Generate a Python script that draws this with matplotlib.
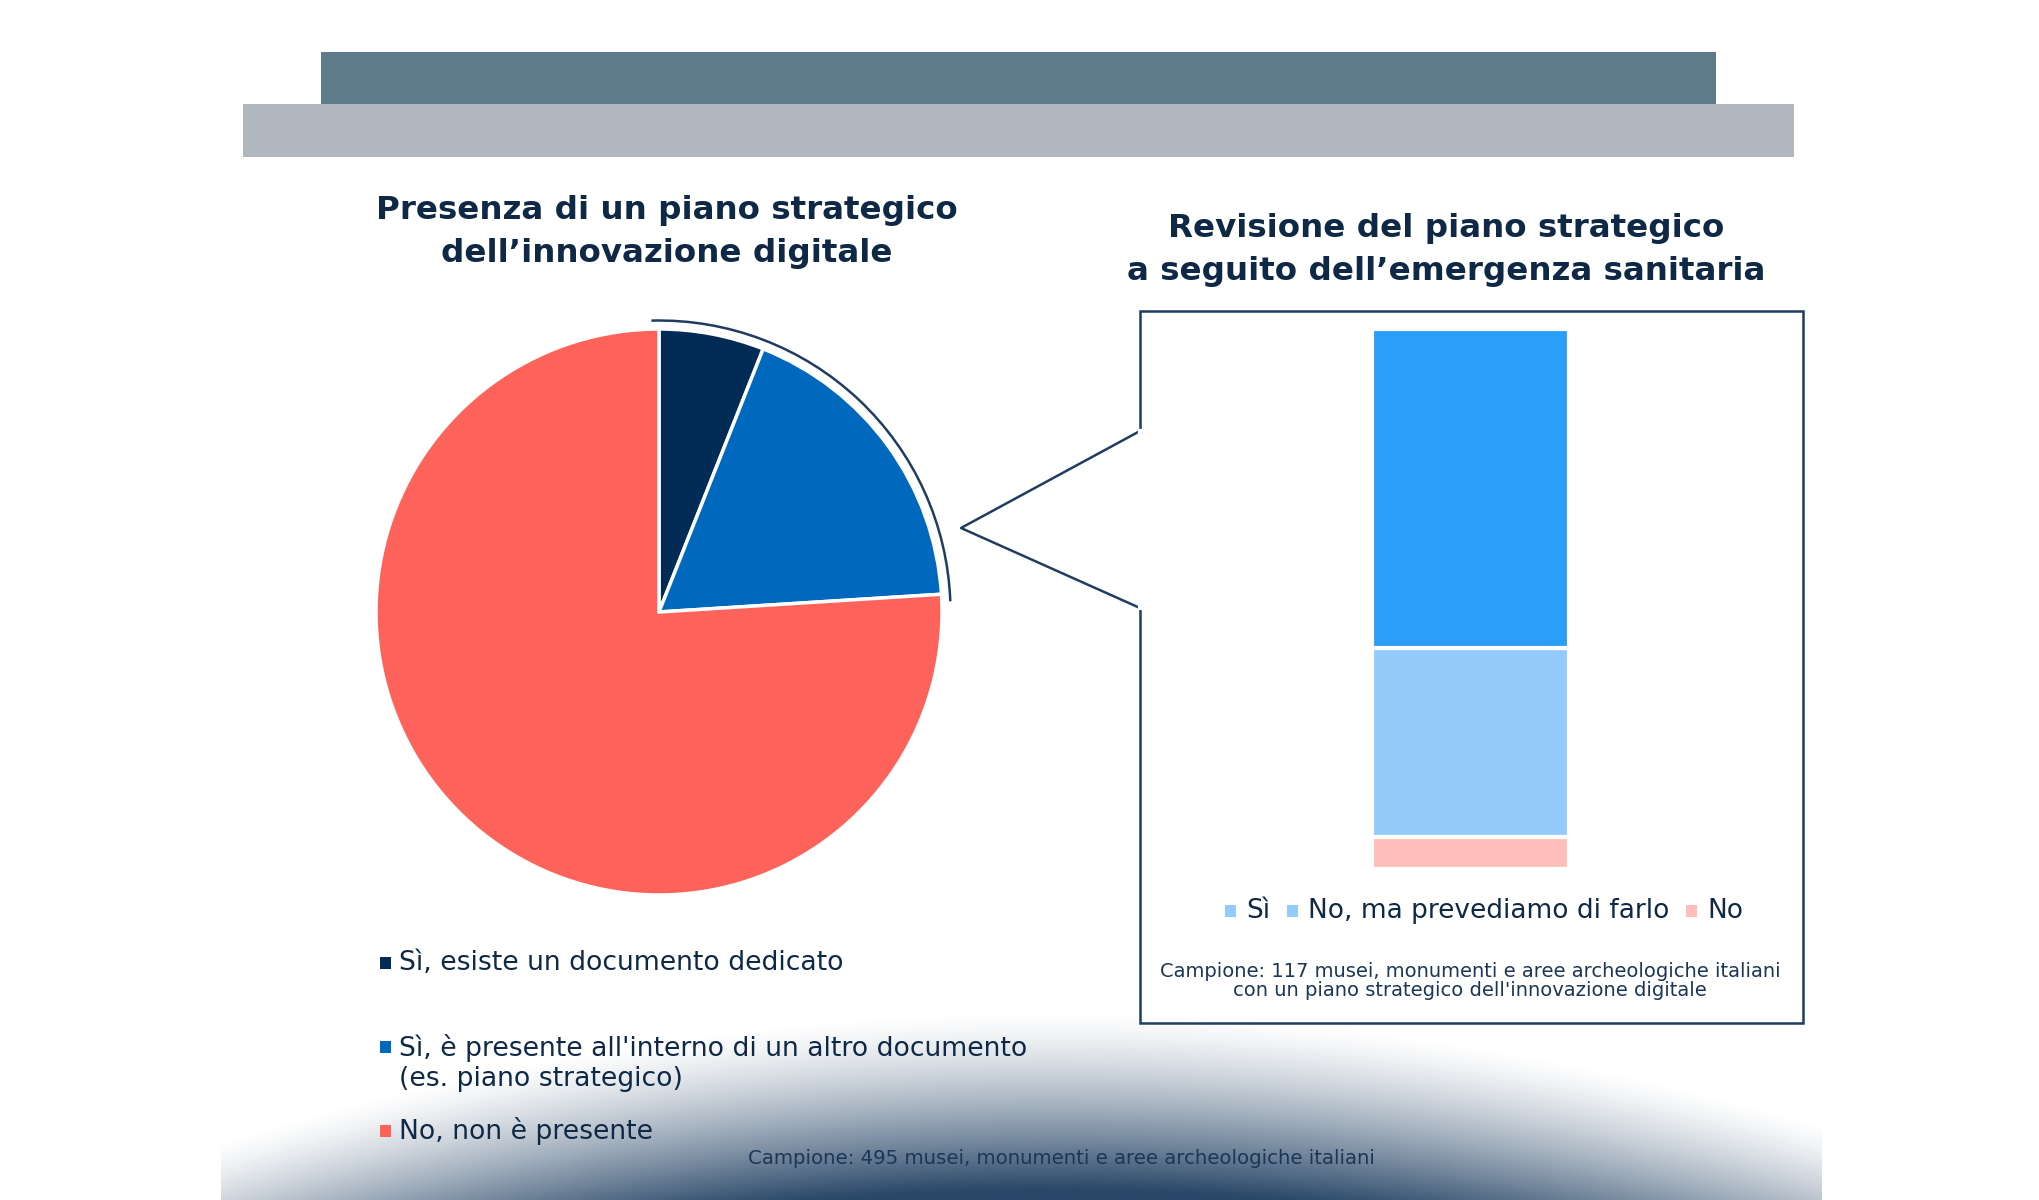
import matplotlib
matplotlib.use("Agg")
import matplotlib.pyplot as plt
import numpy as np
from matplotlib.patches import Rectangle, Arc

# --- data -------------------------------------------------------------
pie_labels = ["Sì, esiste un documento dedicato",
              "Sì, è presente all'interno di un altro documento\n(es. piano strategico)",
              "No, non è presente"]
pie_values = [6, 18, 76]
pie_colors = ["#022b55", "#0068bd", "#fe635b"]

bar_labels = ["Sì", "No, ma prevediamo di farlo", "No"]
bar_values = [59, 35, 6]
bar_colors = ["#2b9ef9", "#94cbfd", "#ffbebb"]
legend_marker_colors = ["#94cbfd", "#94cbfd", "#ffbebb"]

title_left = "Presenza di un piano strategico\ndell’innovazione digitale"
title_right = "Revisione del piano strategico\na seguito dell’emergenza sanitaria"
note_left = "Campione: 495 musei, monumenti e aree archeologiche italiani"
note_right = ("Campione: 117 musei, monumenti e aree archeologiche italiani\n"
              "con un piano strategico dell'innovazione digitale")

NAVY = "#0f2846"
LINE = "#1f3d60"
W, H = 2040, 1200

fig = plt.figure(figsize=(W / 100, H / 100), dpi=100)
fig.patch.set_facecolor("white")
renderer = fig.canvas.get_renderer()

# background layer in pixel coordinates
bg = fig.add_axes([0, 0, 1, 1])
bg.set_xlim(0, W)
bg.set_ylim(H, 0)
bg.axis("off")

# header bars
bg.add_patch(Rectangle((243, 104), 1794 - 243, 53, color="#b0b7bf", lw=0))
bg.add_patch(Rectangle((321, 52), 1716 - 321, 52, color="#5e7a8b", lw=0))

# soft navy glow at the bottom (curved top edge, fading downward into navy)
xs = np.linspace(221, 1822, 400)
ys = np.linspace(990, 1200, 150)
gx, gy = np.meshgrid(xs, ys)
y_top = 1010 + 1.9e-4 * (gx - 1050) ** 2
alpha = np.clip((gy - y_top) / 180.0, 0, 1) ** 1.35
img = np.zeros(gx.shape + (4,))
img[..., 0] = 0x29 / 255
img[..., 1] = 0x47 / 255
img[..., 2] = 0x68 / 255
img[..., 3] = alpha
bg.imshow(img, extent=[221, 1822, 1200, 990], aspect="auto", interpolation="bilinear", zorder=0)

# titles
bg.text(667, 232, title_left, ha="center", va="center", fontsize=23.4, fontweight="bold",
        color=NAVY, linespacing=1.47)
bg.text(1446, 250, title_right, ha="center", va="center", fontsize=23.4, fontweight="bold",
        color=NAVY, linespacing=1.47)

# callout box and pointer
bg.add_patch(Rectangle((1140, 311), 1803 - 1140, 1023 - 311, fill=False, ec=LINE, lw=1.8, zorder=2))
bg.plot([1140, 961, 1140], [431, 528, 608], color=LINE, lw=1.8, zorder=3)
bg.plot([1140, 1140], [431, 608], color="white", lw=3, zorder=3)

# left legend
leg_y = [963, 1063, 1131]
for lab, col, y in zip(pie_labels, pie_colors, leg_y):
    first_line = y - 16 if "\n" in lab else y
    bg.add_patch(Rectangle((380, first_line - 6), 11, 12, color=col, lw=0, zorder=3))
    bg.text(399, y, lab, ha="left", va="center", fontsize=19.2, color=NAVY,
            linespacing=1.2, zorder=3)

bg.text(1061, 1159, note_left, ha="center", va="center", fontsize=14.2, color="#1c3656", zorder=3)

# legend inside box
lx = 1225
for lab, col in zip(bar_labels, legend_marker_colors):
    bg.add_patch(Rectangle((lx, 911 - 6), 11, 12, color=col, lw=0, zorder=3))
    t = bg.text(lx + 21, 911, lab, ha="left", va="center", fontsize=19, color=NAVY, zorder=3)
    bb = t.get_window_extent(renderer=renderer)
    lx = lx + 21 + bb.width + 17

bg.text(1470, 981, note_right, ha="center", va="center", fontsize=14, color="#1c3656",
        linespacing=1.0, zorder=3)

# --- pie ---------------------------------------------------------------
cx, cy, rad = 659, 612, 283
lim = 1.1
side = rad * lim * 2
ax_pie = fig.add_axes([(cx - side / 2) / W, (H - cy - side / 2) / H, side / W, side / H])
ax_pie.pie(pie_values, colors=pie_colors, startangle=90, counterclock=False, radius=1,
           wedgeprops=dict(edgecolor="white", linewidth=2.5))
ax_pie.set_xlim(-lim, lim)
ax_pie.set_ylim(-lim, lim)
ax_pie.set_aspect("equal")
ax_pie.axis("off")
# thin arc hugging the "Sì" slices
yes_share = (pie_values[0] + pie_values[1]) / sum(pie_values) * 360
ax_pie.add_patch(Arc((0, 0), 2 * 1.03, 2 * 1.03, theta1=90 - yes_share - 1.5, theta2=91.5,
                     color=LINE, lw=1.8))

# --- stacked bar -------------------------------------------------------
bx0, bx1, by0, by1 = 1372, 1569, 329, 869
ax_bar = fig.add_axes([bx0 / W, (H - by1) / H, (bx1 - bx0) / W, (by1 - by0) / H])
bottom = 0
for val, col in zip(bar_values[::-1], bar_colors[::-1]):
    ax_bar.bar(0, val, width=1, bottom=bottom, color=col, edgecolor="white", linewidth=3)
    bottom += val
ax_bar.set_xlim(-0.5, 0.5)
ax_bar.set_ylim(0, sum(bar_values))
ax_bar.axis("off")

fig.savefig("out.png", dpi=100)
